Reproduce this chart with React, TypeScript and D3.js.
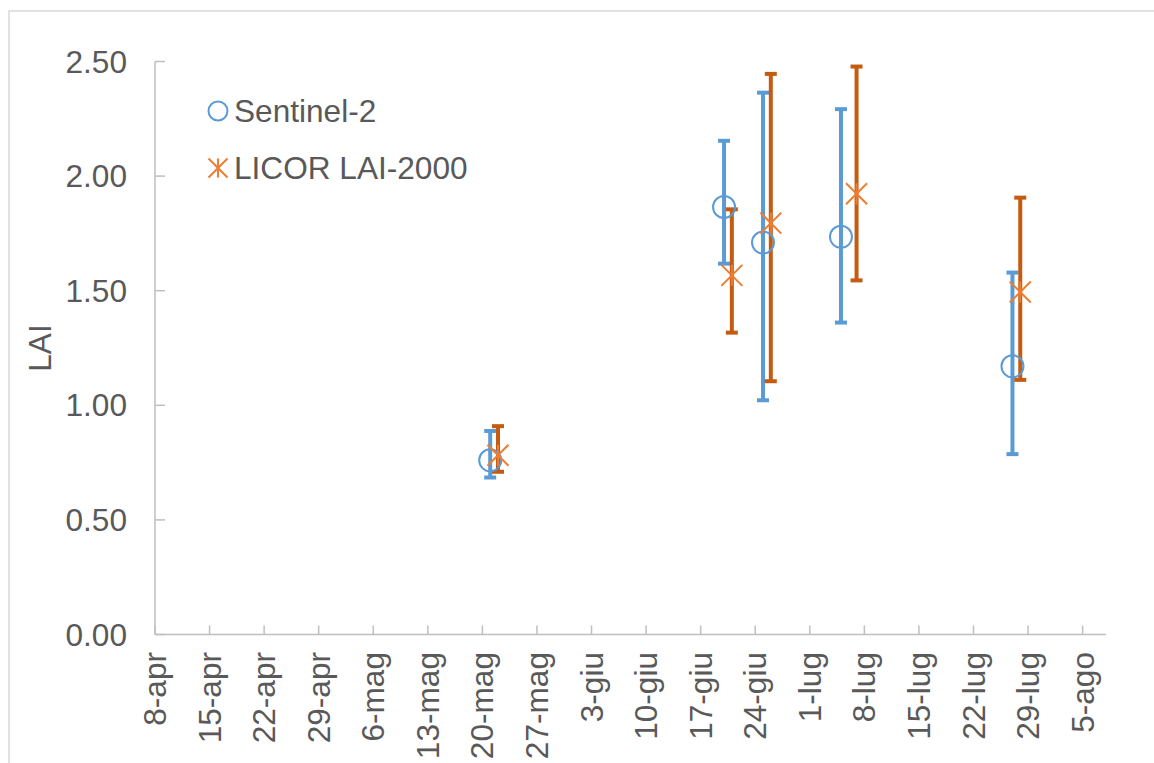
import React from "react";
import * as d3 from "d3";

const s2Dates = ["2019-05-21", "2019-06-20", "2019-06-25", "2019-07-05", "2019-07-27"];
const s2Values = [0.76, 1.865, 1.71, 1.735, 1.17];
const s2Upper = [0.888, 2.154, 2.364, 2.292, 1.579];
const s2Lower = [0.685, 1.618, 1.022, 1.361, 0.787];

const licorDates = ["2019-05-22", "2019-06-21", "2019-06-26", "2019-07-07", "2019-07-28"];
const licorValues = [0.782, 1.567, 1.795, 1.923, 1.494];
const licorUpper = [0.909, 1.855, 2.446, 2.478, 1.906];
const licorLower = [0.71, 1.317, 1.105, 1.545, 1.111];

const xTickLabels = [
  "8-apr", "15-apr", "22-apr", "29-apr", "6-mag", "13-mag", "20-mag", "27-mag", "3-giu",
  "10-giu", "17-giu", "24-giu", "1-lug", "8-lug", "15-lug", "22-lug", "29-lug", "5-ago",
];
const yTicks = [0, 0.5, 1, 1.5, 2, 2.5];
const seriesNames = ["Sentinel-2", "LICOR LAI-2000"];
const yTitle = "LAI";

const parse = d3.timeParse("%Y-%m-%d");
const xStart = parse("2019-04-08")!;
const xEnd = parse("2019-08-08")!;

const FONT = "'Liberation Sans', Arial, sans-serif";
const FS = 31.6;
const TEXT = "#595959";
const AXIS = "#bfbfbf";
const BLUE = "#5b9bd5";
const ORANGE = "#ed7d31";
const ORANGE_DARK = "#c55a11";

function starPath(s: number) {
  return `M${-s},${-s}L${s},${s}M${-s},${s}L${s},${-s}M0,${-s}L0,${s}`;
}

export default function App() {
  const x = d3.scaleTime().domain([xStart, xEnd]).range([155, 1106]);
  const y = d3.scaleLinear().domain([0, 2.5]).range([634.5, 61.5]);
  const tickDates = xTickLabels.map((_, i) => d3.timeDay.offset(xStart, i * 7));
  const fmt = d3.format(".2f");

  const s2 = s2Dates.map((d, i) => ({ x: x(parse(d)!), v: y(s2Values[i]), hi: y(s2Upper[i]), lo: y(s2Lower[i]) }));
  const lc = licorDates.map((d, i) => ({ x: x(parse(d)!), v: y(licorValues[i]), hi: y(licorUpper[i]), lo: y(licorLower[i]) }));
  const cap = 6;

  return (
    <svg width={1154} height={763} style={{ position: "absolute", left: 0, top: 0 }} fontFamily={FONT}>
      <rect x={0} y={0} width={1154} height={763} fill="#fff" />
      <rect x={9} y={11} width={1200} height={800} fill="#fff" stroke="#d9d9d9" strokeWidth={1.5} />

      {/* y axis */}
      <line x1={x.range()[0]} x2={x.range()[0]} y1={y(0)} y2={y(2.5)} stroke={AXIS} strokeWidth={1.5} />
      {yTicks.map((t) => (
        <g key={t}>
          <line x1={155} x2={165} y1={y(t)} y2={y(t)} stroke={AXIS} strokeWidth={1.5} />
          <text x={127} y={y(t)} dy="0.35em" textAnchor="end" fontSize={FS} fill={TEXT}>
            {fmt(t)}
          </text>
        </g>
      ))}

      {/* x axis */}
      <line x1={x.range()[0]} x2={x.range()[1]} y1={y(0)} y2={y(0)} stroke={AXIS} strokeWidth={1.5} />
      {tickDates.map((d, i) => (
        <g key={i}>
          <line x1={x(d)} x2={x(d)} y1={y(0)} y2={y(0) - 9} stroke={AXIS} strokeWidth={1.5} />
          <text
            transform={`translate(${x(d)},652) rotate(-90)`}
            dy="0.35em"
            textAnchor="end"
            fontSize={FS}
            fill={TEXT}
          >
            {xTickLabels[i]}
          </text>
        </g>
      ))}

      <text transform="translate(40,348) rotate(-90)" dy="0.35em" textAnchor="middle" fontSize={FS} fill={TEXT}>
        {yTitle}
      </text>

      {/* error bars */}
      {s2.map((p, i) => (
        <g key={"s2e" + i} stroke={BLUE} strokeWidth={4}>
          <line x1={p.x} x2={p.x} y1={p.hi} y2={p.lo} />
          <line x1={p.x - cap} x2={p.x + cap} y1={p.hi} y2={p.hi} />
          <line x1={p.x - cap} x2={p.x + cap} y1={p.lo} y2={p.lo} />
        </g>
      ))}
      {lc.map((p, i) => (
        <g key={"lce" + i} stroke={ORANGE_DARK} strokeWidth={4}>
          <line x1={p.x} x2={p.x} y1={p.hi} y2={p.lo} />
          <line x1={p.x - cap} x2={p.x + cap} y1={p.hi} y2={p.hi} />
          <line x1={p.x - cap} x2={p.x + cap} y1={p.lo} y2={p.lo} />
        </g>
      ))}

      {/* markers */}
      {s2.map((p, i) => (
        <circle key={"s2m" + i} cx={p.x} cy={p.v} r={11} fill="none" stroke={BLUE} strokeWidth={2} />
      ))}
      {lc.map((p, i) => (
        <path key={"lcm" + i} d={starPath(10.5)} transform={`translate(${p.x},${p.v})`} fill="none" stroke={ORANGE} strokeWidth={2} />
      ))}

      {/* legend */}
      <circle cx={218} cy={111} r={9.5} fill="none" stroke={BLUE} strokeWidth={2} />
      <text x={234} y={111} dy="0.35em" fontSize={FS} fill={TEXT}>
        {seriesNames[0]}
      </text>
      <path d={starPath(9.5)} transform="translate(218,168)" fill="none" stroke={ORANGE} strokeWidth={2} />
      <text x={234} y={168} dy="0.35em" fontSize={FS} fill={TEXT}>
        {seriesNames[1]}
      </text>
    </svg>
  );
}
